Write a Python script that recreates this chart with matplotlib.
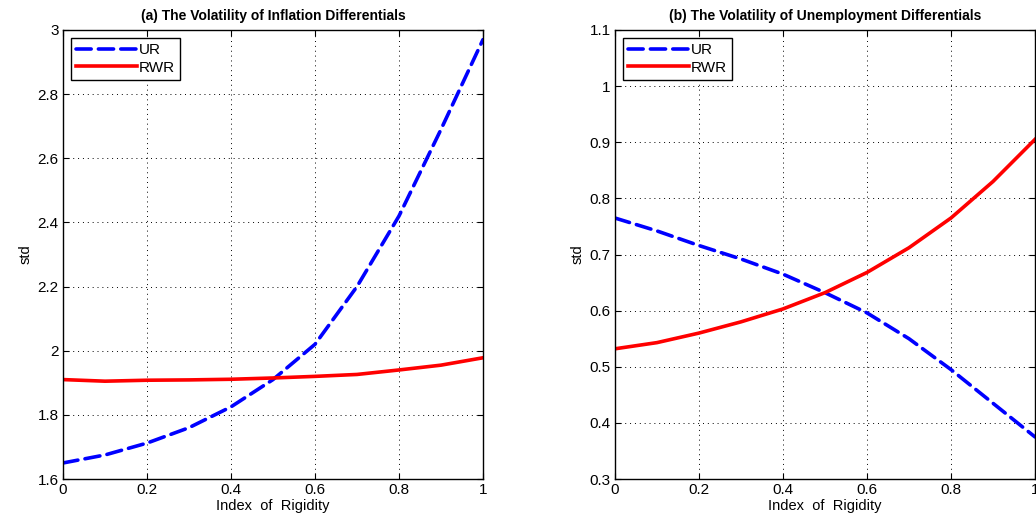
import numpy as np
import matplotlib
matplotlib.use('Agg')
import matplotlib.pyplot as plt

plt.rcParams['font.family'] = ['Liberation Sans', 'DejaVu Sans']

rigidity = [0.0, 0.1, 0.2, 0.3, 0.4, 0.5, 0.6, 0.7, 0.8, 0.9, 1.0]

# (a) inflation differentials
infl_ur = [1.65, 1.675, 1.712, 1.76, 1.825, 1.91, 2.02, 2.2, 2.42, 2.69, 2.97]
infl_rwr = [1.91, 1.905, 1.908, 1.909, 1.911, 1.915, 1.92, 1.926, 1.94, 1.955, 1.978]

# (b) unemployment differentials
unemp_ur = [0.765, 0.742, 0.716, 0.692, 0.665, 0.632, 0.596, 0.55, 0.495, 0.435, 0.375]
unemp_rwr = [0.532, 0.543, 0.56, 0.58, 0.603, 0.632, 0.668, 0.712, 0.765, 0.83, 0.905]

titles = ['(a) The Volatility of Inflation Differentials',
          '(b) The Volatility of Unemployment Differentials']
ylims = [(1.6, 3.0), (0.3, 1.1)]
yticks = [np.arange(1.6, 3.01, 0.2), np.arange(0.3, 1.11, 0.1)]
ytick_labels = [['1.6', '1.8', '2', '2.2', '2.4', '2.6', '2.8', '3'],
                ['0.3', '0.4', '0.5', '0.6', '0.7', '0.8', '0.9', '1', '1.1']]
xtick_labels = ['0', '0.2', '0.4', '0.6', '0.8', '1']

fig = plt.figure(figsize=(10.36, 5.29), dpi=100)
ax_a = fig.add_axes([0.0608, 0.0945, 0.4054, 0.8488])
ax_b = fig.add_axes([0.5936, 0.0945, 0.4054, 0.8488])

for ax, ur, rwr, title, ylim, yt, ytl in zip(
        [ax_a, ax_b], [infl_ur, unemp_ur], [infl_rwr, unemp_rwr],
        titles, ylims, yticks, ytick_labels):
    ax.plot(rigidity, ur, color='blue', linestyle=(0, (4.2, 2.0)), linewidth=2.6,
            dash_capstyle='round', label='UR')
    ax.plot(rigidity, rwr, color='red', linestyle='-', linewidth=2.6, label='RWR')
    ax.set_xlim(0, 1)
    ax.set_ylim(*ylim)
    ax.set_xticks(np.arange(0, 1.01, 0.2))
    ax.set_xticklabels(xtick_labels)
    ax.set_yticks(yt)
    ax.set_yticklabels(ytl)
    ax.grid(True, color='black', linestyle=(0, (1, 4)), linewidth=0.7)
    ax.tick_params(direction='in', labelsize=11, length=4, top=True, right=True, pad=3)
    ax.set_xlabel('Index  of  Rigidity', fontsize=10.5, labelpad=1)
    ax.set_ylabel('std', fontsize=10.5, labelpad=4)
    ax.set_title(title, fontsize=10, fontweight='bold', pad=7)
    for s in ax.spines.values():
        s.set_linewidth(1.0)
    leg = ax.legend(loc='upper left', fontsize=11, fancybox=False, framealpha=1,
                    edgecolor='black', handlelength=4.0, handletextpad=0.1,
                    borderpad=0.35, labelspacing=0.25, borderaxespad=0.5)
    leg.get_frame().set_linewidth(1.0)

fig.savefig('out.png', dpi=100)
